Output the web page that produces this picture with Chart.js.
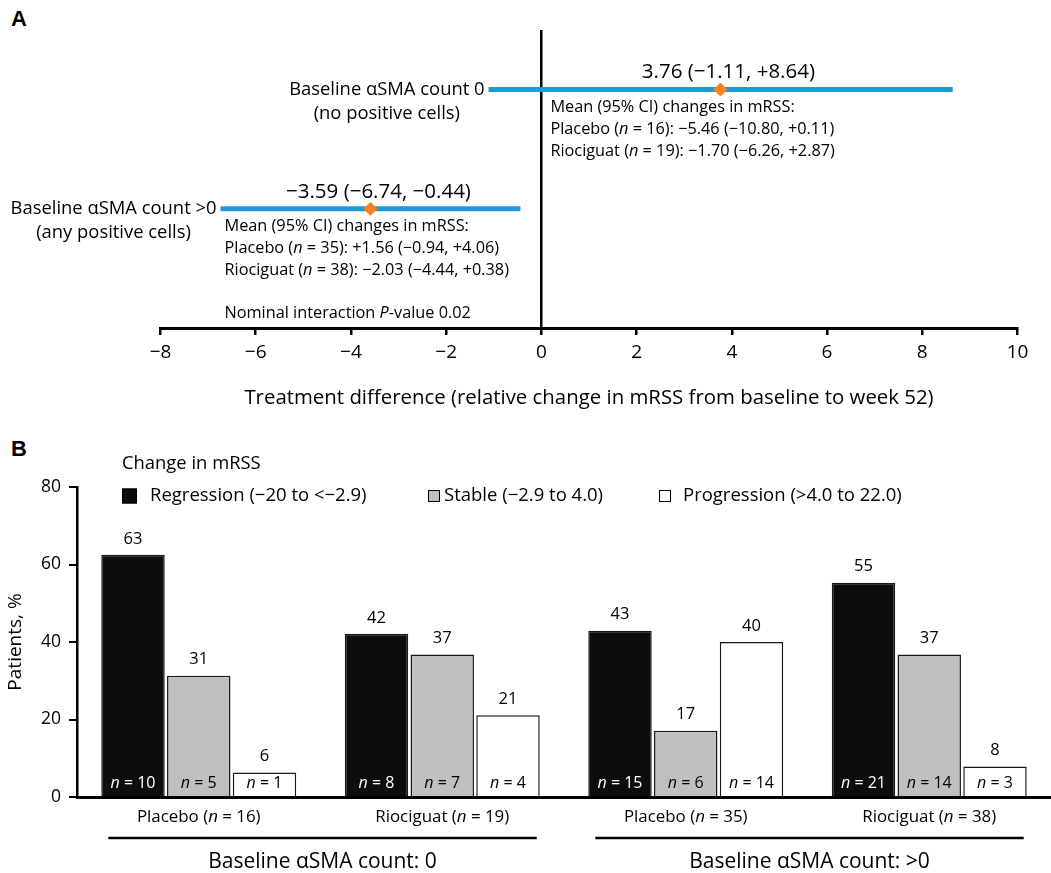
<!DOCTYPE html>
<html lang="en">
<head>
  <meta charset="UTF-8">
  <title>αSMA count and change in mRSS</title>
  <script src="https://cdn.jsdelivr.net/npm/chart.js"></script>
  <style>
    body { margin: 0; background: #fff; width: 1051px; height: 873px; position: relative; overflow: hidden; }
    canvas { position: absolute; left: 0; }
    #forest { top: 0; }
    #bars { top: 430px; }
    .tag { position: absolute; left: 11px; font: bold 22px Arial, sans-serif; color: #000; }
  </style>
</head>
<body>
  <div class="tag" style="top:6px">A</div>
  <div class="tag" style="top:436px">B</div>
  <canvas id="forest" width="1051" height="430"></canvas>
  <canvas id="bars" width="1051" height="443"></canvas>

  <script>
    // Panel A: treatment difference by baseline αSMA count
    const subgroupLabels = ['Baseline αSMA count 0', 'Baseline αSMA count >0'];
    const subgroupNotes = ['(no positive cells)', '(any positive cells)'];
    const subgroupRows = [4, 2];
    const diffEstimate = [3.76, -3.59];
    const diffLow = [-1.11, -6.74];
    const diffHigh = [8.64, -0.44];
    const armNames = ['Placebo', 'Riociguat'];
    const armN = [[16, 19], [35, 38]];
    const armMean = [[-5.46, -1.70], [1.56, -2.03]];
    const armLow = [[-10.80, -6.26], [-0.94, -4.44]];
    const armHigh = [[0.11, 2.87], [4.06, 0.38]];
    const interactionP = '0.02';
    const diffTicks = [-8, -6, -4, -2, 0, 2, 4, 6, 8, 10];

    // Panel B: change in mRSS categories
    const armLabels = ['Placebo', 'Riociguat', 'Placebo', 'Riociguat'];
    const armTotals = [16, 19, 35, 38];
    const changeCategories = ['Regression (−20 to <−2.9)', 'Stable (−2.9 to 4.0)', 'Progression (>4.0 to 22.0)'];
    const regressionPct = [62.5, 42.1, 42.9, 55.3];
    const stablePct = [31.3, 36.8, 17.1, 36.8];
    const progressionPct = [6.3, 21.1, 40.0, 7.9];
    const regressionN = [10, 8, 15, 21];
    const stableN = [5, 7, 6, 14];
    const progressionN = [1, 4, 14, 3];
    const baselineLabels = ['Baseline αSMA count: 0', 'Baseline αSMA count: >0'];
    const pctTicks = [0, 20, 40, 60, 80];

    const FONT = '"Open Sans", Lato, sans-serif';

    function fmt(v, plus) {
      const sign = v < 0 ? '−' : (plus ? '+' : '');
      return sign + Math.abs(v).toFixed(2);
    }

    // draw text made of [text, italic] parts
    function drawRich(ctx, parts, x, y, align, size) {
      let total = 0;
      const widths = parts.map(p => {
        ctx.font = (p[1] ? 'italic ' : '') + size + 'px ' + FONT;
        const w = ctx.measureText(p[0]).width;
        total += w;
        return w;
      });
      let cx = align === 'center' ? x - total / 2 : (align === 'right' ? x - total : x);
      ctx.textAlign = 'left';
      parts.forEach((p, i) => {
        ctx.font = (p[1] ? 'italic ' : '') + size + 'px ' + FONT;
        ctx.fillText(p[0], cx, y);
        cx += widths[i];
      });
    }

    const forestText = {
      id: 'forestText',
      afterDraw(chart) {
        const { ctx, scales: { x, y } } = chart;
        ctx.save();
        ctx.fillStyle = '#000';
        ctx.textBaseline = 'middle';
        subgroupLabels.forEach((name, i) => {
          const py = y.getPixelForValue(subgroupRows[i]);
          const left = x.getPixelForValue(diffLow[i]);
          ctx.font = '18.4px ' + FONT;
          ctx.textAlign = 'right';
          ctx.fillText(name, left - 4, py);
          const w = ctx.measureText(name).width;
          ctx.textAlign = 'center';
          ctx.fillText(subgroupNotes[i], left - 4 - w / 2, py + 24);

          ctx.font = '20.5px ' + FONT;
          ctx.fillText(fmt(diffEstimate[i]) + ' (' + fmt(diffLow[i], true) + ', ' + fmt(diffHigh[i], true) + ')',
            x.getPixelForValue(diffEstimate[i]) + 8, py - 17);

          const bx = i === 0 ? x.getPixelForValue(0) + 9 : left + 4;
          drawRich(ctx, [['Mean (95% CI) changes in mRSS:', false]], bx, py + 18, 'left', 16.3);
          armNames.forEach((arm, j) => {
            drawRich(ctx, [
              [arm + ' (', false], ['n', true],
              [' = ' + armN[i][j] + '): ' + fmt(armMean[i][j], true) + ' (' + fmt(armLow[i][j], true) + ', ' + fmt(armHigh[i][j], true) + ')', false]
            ], bx, py + 40 + j * 22, 'left', 16.3);
          });
          if (i === 1) {
            drawRich(ctx, [['Nominal interaction ', false], ['P', true], ['-value ' + interactionP, false]], bx, py + 105, 'left', 16.3);
          }
        });
        ctx.restore();
      }
    };

    new Chart(document.getElementById('forest'), {
      type: 'scatter',
      data: {
        datasets: [
          {
            data: diffEstimate.map((v, i) => ({ x: v, y: subgroupRows[i] })),
            pointStyle: 'rectRot',
            pointRadius: 6.5,
            backgroundColor: '#f5821f',
            borderColor: '#f5821f'
          },
          ...subgroupRows.map((row, i) => ({
            data: [{ x: diffLow[i], y: row }, { x: diffHigh[i], y: row }],
            showLine: true,
            borderColor: '#1e9ad6',
            borderWidth: 5,
            borderCapStyle: 'butt',
            pointRadius: 0
          }))
        ]
      },
      options: {
        responsive: false,
        animation: false,
        layout: { padding: { left: 160.5, right: 33.5, top: 30, bottom: 0 } },
        plugins: { legend: { display: false }, tooltip: { enabled: false } },
        scales: {
          x: {
            type: 'linear',
            min: -8,
            max: 10,
            afterBuildTicks: s => { s.ticks = diffTicks.map(v => ({ value: v })); },
            afterFit: s => { s.height = 102; },
            ticks: {
              color: '#000',
              padding: 6,
              font: { family: FONT, size: 19 },
              callback: v => (v < 0 ? '−' + Math.abs(v) : String(v))
            },
            grid: {
              color: c => (c.tick && c.tick.value === 0 ? '#000' : 'rgba(0,0,0,0)'),
              lineWidth: 2.5,
              tickColor: '#000',
              tickLength: 7,
              tickWidth: 2.5
            },
            border: { color: '#000', width: 3 },
            title: {
              display: true,
              text: 'Treatment difference (relative change in mRSS from baseline to week 52)',
              color: '#000',
              font: { family: FONT, size: 20.4 },
              padding: { top: 0, bottom: 20 }
            }
          },
          y: { min: 0, max: 5, display: false }
        }
      },
      plugins: [forestText]
    });

    const barText = {
      id: 'barText',
      afterDatasetsDraw(chart) {
        const { ctx, scales: { x } } = chart;
        ctx.save();
        ctx.textBaseline = 'middle';
        chart.data.datasets.forEach((ds, d) => {
          const meta = chart.getDatasetMeta(d);
          meta.data.forEach((bar, i) => {
            ctx.fillStyle = '#000';
            ctx.font = '16.5px ' + FONT;
            ctx.textAlign = 'center';
            ctx.fillText(String(Math.round(ds.data[i])), bar.x, bar.y - 16);
            ctx.fillStyle = ds.nColor;
            drawRich(ctx, [['n', true], [' = ' + ds.counts[i], false]], bar.x, bar.base - 13, 'center', 16);
          });
        });

        // arm labels under the axis
        ctx.fillStyle = '#000';
        armLabels.forEach((arm, i) => {
          drawRich(ctx, [[arm + ' (', false], ['n', true], [' = ' + armTotals[i] + ')', false]],
            x.getPixelForValue(i), 387, 'center', 16.9);
        });

        // baseline group brackets
        const metaFirst = chart.getDatasetMeta(0);
        const metaLast = chart.getDatasetMeta(chart.data.datasets.length - 1);
        baselineLabels.forEach((lab, g) => {
          const b0 = metaFirst.data[g * 2];
          const b1 = metaLast.data[g * 2 + 1];
          const x0 = b0.x - b0.width / 2 + 7;
          const x1 = b1.x + b1.width / 2 - 3;
          ctx.strokeStyle = '#000';
          ctx.lineWidth = 2.5;
          ctx.beginPath();
          ctx.moveTo(x0, 408);
          ctx.lineTo(x1, 408);
          ctx.stroke();
          ctx.font = '21px ' + FONT;
          ctx.textAlign = 'center';
          ctx.fillText(lab, (x0 + x1) / 2, 432);
        });

        // legend
        ctx.font = '18.4px ' + FONT;
        ctx.textAlign = 'left';
        ctx.fillText('Change in mRSS', 122, 34);
        const boxX = [122, 428, 659];
        const boxS = [15, 12, 12];
        const textX = [150, 444, 683];
        chart.data.datasets.forEach((ds, d) => {
          ctx.fillStyle = ds.backgroundColor;
          ctx.strokeStyle = '#000';
          ctx.lineWidth = 1;
          ctx.fillRect(boxX[d], 66 - boxS[d] / 2, boxS[d], boxS[d]);
          ctx.strokeRect(boxX[d] + 0.5, 66 - boxS[d] / 2 + 0.5, boxS[d] - 1, boxS[d] - 1);
          ctx.fillStyle = '#000';
          ctx.font = '18.5px ' + FONT;
          ctx.fillText(ds.label, textX[d], 66);
        });
        ctx.restore();
      }
    };

    new Chart(document.getElementById('bars'), {
      type: 'bar',
      data: {
        labels: armLabels,
        datasets: [
          { label: changeCategories[0], data: regressionPct, counts: regressionN, nColor: '#fff', backgroundColor: '#0d0d0d' },
          { label: changeCategories[1], data: stablePct, counts: stableN, nColor: '#000', backgroundColor: '#bfbfbf' },
          { label: changeCategories[2], data: progressionPct, counts: progressionN, nColor: '#000', backgroundColor: '#ffffff' }
        ]
      },
      options: {
        responsive: false,
        animation: false,
        layout: { padding: { top: 57, right: 0, left: 0, bottom: 0 } },
        datasets: {
          bar: { categoryPercentage: 0.81, barPercentage: 0.965, borderColor: '#1a1a1a', borderWidth: 1.5 }
        },
        plugins: { legend: { display: false }, tooltip: { enabled: false } },
        scales: {
          x: {
            grid: { display: false },
            ticks: { display: false },
            border: { color: '#000', width: 3 },
            afterFit: s => { s.height = 76; }
          },
          y: {
            min: 0,
            max: 80,
            afterBuildTicks: s => { s.ticks = pctTicks.map(v => ({ value: v })); },
            afterFit: s => { s.width = 77; },
            ticks: { color: '#000', padding: 8, font: { family: FONT, size: 17.5 } },
            grid: { drawOnChartArea: false, color: '#000', lineWidth: 2, tickLength: 8 },
            border: { color: '#000', width: 2.5 },
            title: {
              display: true,
              text: 'Patients, %',
              color: '#000',
              font: { family: FONT, size: 19 },
              padding: { top: 4, bottom: 0 }
            }
          }
        }
      },
      plugins: [barText]
    });
  </script>
</body>
</html>
